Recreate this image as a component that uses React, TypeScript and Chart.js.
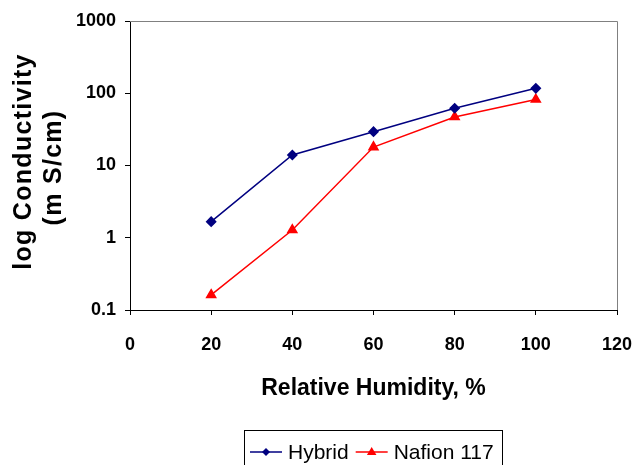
import React, { useEffect, useRef } from "react";
import { Chart, registerables } from "chart.js";

Chart.register(...registerables);

const humidity = [20, 40, 60, 80, 100];
const hybrid = [1.67, 14.0, 29.4, 62, 117];
const nafion = [0.162, 1.28, 18, 47, 82];
const yTickValues = [0.1, 1, 10, 100, 1000];
const seriesNames = ["Hybrid", "Nafion 117"];
const xTitle = "Relative Humidity, %";
const yTitleLines = ["log Conductivity", "(m S/cm)"];

const FONT = "'Liberation Sans', Arial, sans-serif";
const HYBRID_COLOR = "#000080";
const NAFION_COLOR = "#FF0000";

const framePlugin = {
  id: "frame",
  beforeDatasetsDraw(chart: any) {
    const { ctx, chartArea } = chart;
    ctx.save();
    ctx.strokeStyle = "#808080";
    ctx.lineWidth = 1;
    ctx.beginPath();
    ctx.moveTo(chartArea.left, chartArea.top + 0.5);
    ctx.lineTo(chartArea.right + 0.5, chartArea.top + 0.5);
    ctx.lineTo(chartArea.right + 0.5, chartArea.bottom);
    ctx.stroke();
    ctx.restore();
  },
};

const yTitlePlugin = {
  id: "yTitle",
  afterDraw(chart: any) {
    const { ctx, chartArea } = chart;
    const cy = (chartArea.top + chartArea.bottom) / 2;
    const xs = [24, 54];
    const dy = [-4, 2];
    ctx.save();
    ctx.fillStyle = "#000";
    ctx.font = `bold 25px ${FONT}`;
    try {
      (ctx as any).letterSpacing = "1.3px";
    } catch (e) {}
    ctx.textAlign = "center";
    ctx.textBaseline = "middle";
    yTitleLines.forEach((line, i) => {
      ctx.save();
      ctx.translate(xs[i], cy + dy[i]);
      ctx.rotate(-Math.PI / 2);
      ctx.fillText(line, 0, 0);
      ctx.restore();
    });
    ctx.restore();
  },
};

function drawMarker(ctx: CanvasRenderingContext2D, style: string, x: number, y: number, r: number, color: string) {
  ctx.fillStyle = color;
  ctx.beginPath();
  if (style === "rectRot") {
    ctx.moveTo(x, y - r);
    ctx.lineTo(x + r, y);
    ctx.lineTo(x, y + r);
    ctx.lineTo(x - r, y);
  } else {
    ctx.moveTo(x, y - r);
    ctx.lineTo(x + r * 0.95, y + r * 0.6);
    ctx.lineTo(x - r * 0.95, y + r * 0.6);
  }
  ctx.closePath();
  ctx.fill();
}

const legendPlugin = {
  id: "customLegend",
  afterDraw(chart: any) {
    const { ctx, chartArea } = chart;
    const items = chart.data.datasets.map((ds: any) => ({
      text: ds.label,
      color: ds.borderColor,
      style: ds.pointStyle,
    }));
    ctx.save();
    ctx.font = `21px ${FONT}`;
    const lineLen = 32;
    const gapLineText = 6;
    const gapItems = 7;
    const padL = 6;
    const padR = 8;
    let total = padL + padR;
    items.forEach((it: any, i: number) => {
      total += lineLen + gapLineText + ctx.measureText(it.text).width;
      if (i > 0) total += gapItems;
    });
    const cx = (chartArea.left + chartArea.right) / 2 - 1;
    const left = Math.round(cx - total / 2);
    const top = chartArea.bottom + 120;
    const cyL = top + 22;
    ctx.strokeStyle = "#000";
    ctx.lineWidth = 1;
    ctx.strokeRect(left + 0.5, top + 0.5, Math.round(total), 50);
    let x = left + padL;
    ctx.textBaseline = "middle";
    ctx.textAlign = "left";
    items.forEach((it: any, i: number) => {
      if (i > 0) x += gapItems;
      ctx.strokeStyle = it.color;
      ctx.lineWidth = 1.5;
      ctx.beginPath();
      ctx.moveTo(x, cyL);
      ctx.lineTo(x + lineLen, cyL);
      ctx.stroke();
      drawMarker(ctx, it.style, x + lineLen / 2, cyL, it.style === "rectRot" ? 4 : 5, it.color);
      x += lineLen + gapLineText;
      ctx.fillStyle = "#000";
      ctx.fillText(it.text, x, cyL + 1);
      x += ctx.measureText(it.text).width;
    });
    ctx.restore();
  },
};

export default function App() {
  const canvasRef = useRef<HTMLCanvasElement | null>(null);

  useEffect(() => {
    if (!canvasRef.current) return;
    const chart = new Chart(canvasRef.current, {
      type: "line",
      data: {
        datasets: [
          {
            label: seriesNames[0],
            data: humidity.map((h, i) => ({ x: h, y: hybrid[i] })),
            borderColor: HYBRID_COLOR,
            backgroundColor: HYBRID_COLOR,
            borderWidth: 1.5,
            pointStyle: "rectRot",
            pointRadius: 4.5,
            pointHoverRadius: 4.5,
            tension: 0,
          },
          {
            label: seriesNames[1],
            data: humidity.map((h, i) => ({ x: h, y: nafion[i] })),
            borderColor: NAFION_COLOR,
            backgroundColor: NAFION_COLOR,
            borderWidth: 1.5,
            pointStyle: "triangle",
            pointRadius: 5.2,
            pointHoverRadius: 5.2,
            tension: 0,
          },
        ],
      },
      options: {
        responsive: false,
        animation: false,
        events: [],
        layout: { padding: { top: 21, right: 17, bottom: 55, left: 0 } },
        plugins: {
          legend: { display: false },
          tooltip: { enabled: false },
        },
        scales: {
          x: {
            type: "linear",
            min: 0,
            max: 120,
            ticks: {
              stepSize: 20,
              color: "#000",
              padding: 19,
              font: { family: FONT, size: 18, weight: "bold" },
            },
            grid: {
              display: true,
              drawOnChartArea: false,
              drawTicks: true,
              tickLength: 5,
              color: "#000",
            },
            border: { display: true, color: "#000", width: 1 },
            title: {
              display: true,
              text: xTitle,
              color: "#000",
              font: { family: FONT, size: 23, weight: "bold" },
              padding: { top: 0, bottom: 8 },
            },
            afterFit(scale: any) {
              scale.height = 100;
              scale.paddingLeft = 0;
              scale.paddingRight = 0;
            },
          },
          y: {
            type: "logarithmic",
            min: 0.1,
            max: 1000,
            afterBuildTicks(scale: any) {
              scale.ticks = yTickValues.map((v) => ({ value: v }));
            },
            ticks: {
              color: "#000",
              padding: 9,
              font: { family: FONT, size: 18, weight: "bold" },
              callback: (v: any) => String(v),
            },
            grid: {
              display: true,
              drawOnChartArea: false,
              drawTicks: true,
              tickLength: 5,
              color: "#000",
            },
            border: { display: true, color: "#000", width: 1 },
            afterFit(scale: any) {
              scale.width = 130;
              scale.paddingTop = 0;
              scale.paddingBottom = 0;
            },
          },
        },
      },
      plugins: [framePlugin, yTitlePlugin, legendPlugin],
    });
    return () => chart.destroy();
  }, []);

  return (
    <div style={{ position: "fixed", left: 0, top: 0, width: 634, height: 465, background: "#fff" }}>
      <canvas ref={canvasRef} width={634} height={465} />
    </div>
  );
}
